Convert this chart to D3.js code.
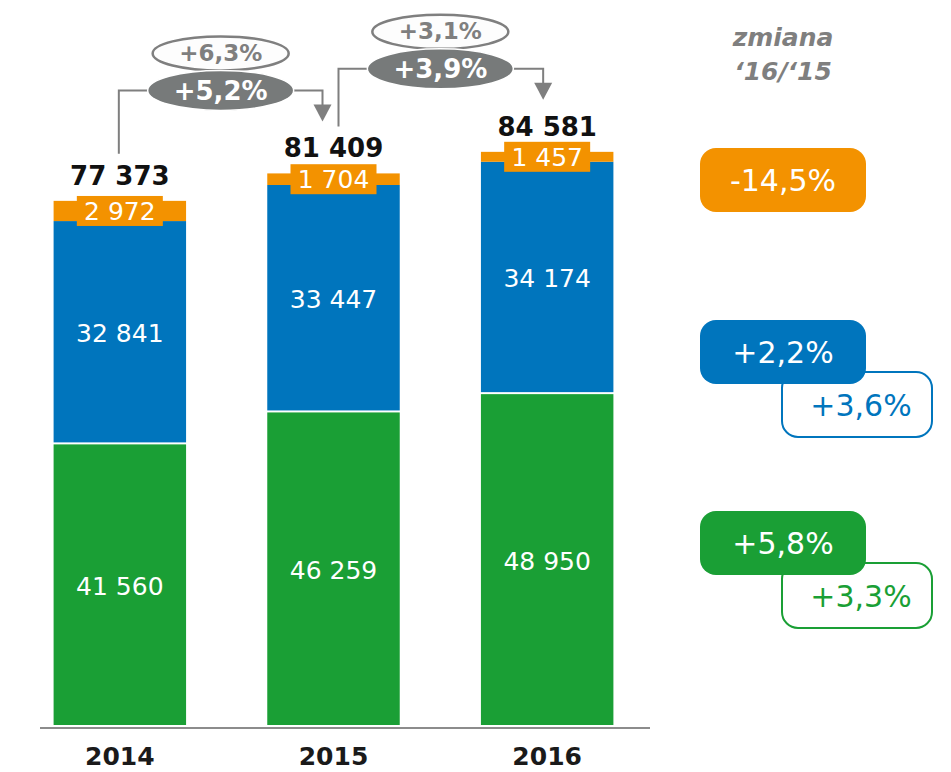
<!DOCTYPE html>
<html>
<head>
<meta charset="utf-8">
<script src="https://cdn.jsdelivr.net/npm/d3@7"></script>
<style>
  body { margin: 0; background: #fff; }
  text { font-family: "DejaVu Sans", Verdana, sans-serif; }
</style>
</head>
<body>
<div id="chart"></div>
<script>
// values
const years = ["2014", "2015", "2016"];
const green = [41560, 46259, 48950];
const blue = [32841, 33447, 34174];
const orange = [2972, 1704, 1457];
const totals = [77373, 81409, 84581];

// year-on-year growth of totals (main = this report, prev = comparable)
const growthMain = ["+5,2%", "+3,9%"];
const growthPrev = ["+6,3%", "+3,1%"];

// change '16/'15 per segment
const changeLabels = ["-14,5%", "+2,2%", "+5,8%"];
const changePrev = [null, "+3,6%", "+3,3%"];

const colors = { green: "#1a9f35", blue: "#0075bd", orange: "#f39200", gray: "#7f7f7f", dark: "#777a7a" };
const fmt = v => d3.format(",")(v).replace(/,/g, " ");

const width = 951, height = 772;
const svg = d3.select("#chart").append("svg")
    .attr("width", width)
    .attr("height", height);

const x = d3.scaleBand()
    .domain(years)
    .range([13, 654])
    .paddingInner(0.38)
    .paddingOuter(0.19);

const y = d3.scaleLinear()
    .domain([0, 100000])
    .range([727, 47]);

// stack the segments
const rows = years.map((yr, i) => ({ year: yr, green: green[i], blue: blue[i], orange: orange[i] }));
const keys = ["green", "blue", "orange"];
const series = d3.stack().keys(keys)(rows);

const bw = x.bandwidth();

series.forEach(s => {
    svg.append("g").selectAll("rect")
        .data(s)
        .join("rect")
        .attr("x", d => x(d.data.year))
        .attr("width", bw)
        .attr("y", d => y(d[1]))
        .attr("height", d => y(d[0]) - y(d[1]) - (s.key === "orange" ? 0 : 2))
        .attr("fill", colors[s.key]);
});

// labels in green and blue segments
["green", "blue"].forEach(k => {
    const s = series.find(d => d.key === k);
    svg.append("g").selectAll("text")
        .data(s)
        .join("text")
        .attr("x", d => x(d.data.year) + bw / 2)
        .attr("y", d => (y(d[0]) + y(d[1])) / 2)
        .attr("dy", "0.36em")
        .attr("text-anchor", "middle")
        .attr("fill", "#fff")
        .attr("font-size", 25)
        .text(d => fmt(d.data[k]));
});

// orange labels with their own orange box
const os = series.find(d => d.key === "orange");
const og = svg.append("g").selectAll("g")
    .data(os)
    .join("g")
    .attr("transform", d => `translate(${x(d.data.year) + bw / 2},${(y(d[0]) + y(d[1])) / 2})`);
og.append("rect")
    .attr("x", -43).attr("y", -15)
    .attr("width", 86).attr("height", 30)
    .attr("fill", colors.orange);
og.append("text")
    .attr("dy", "0.36em")
    .attr("text-anchor", "middle")
    .attr("fill", "#fff")
    .attr("font-size", 25)
    .text(d => fmt(d.data.orange));

// totals
svg.append("g").selectAll("text")
    .data(totals)
    .join("text")
    .attr("x", (d, i) => x(years[i]) + bw / 2)
    .attr("y", d => y(d) - 16)
    .attr("text-anchor", "middle")
    .attr("font-weight", "bold")
    .attr("font-size", 26)
    .attr("fill", "#111")
    .text(d => fmt(d));

// baseline
svg.append("line")
    .attr("x1", 40).attr("x2", 650)
    .attr("y1", y(0) + 1).attr("y2", y(0) + 1)
    .attr("stroke", "#8c8c8c")
    .attr("stroke-width", 2);

// year labels
svg.append("g").selectAll("text")
    .data(years)
    .join("text")
    .attr("x", d => x(d) + bw / 2)
    .attr("y", 765)
    .attr("text-anchor", "middle")
    .attr("font-weight", "bold")
    .attr("font-size", 25)
    .attr("fill", "#1a1a1a")
    .text(d => d);

// growth connectors
growthMain.forEach((g, i) => {
    const x0 = x(years[i]) + bw / 2 + (i === 0 ? -1 : 5);
    const x1 = x(years[i + 1]) + bw / 2 - (i === 0 ? 11 : 4);
    const yStart = y(totals[i]) - 47;
    const yEnd = y(totals[i + 1]) - 52;
    const hy = y(totals[i + 1]) - 83;
    const cx = (x(years[i]) + x(years[i + 1])) / 2 + bw / 2 - 6 + i * 6;

    svg.append("path")
        .attr("d", `M${x0},${yStart}V${hy}H${x1}V${yEnd - 16}`)
        .attr("fill", "none")
        .attr("stroke", colors.gray)
        .attr("stroke-width", 2);
    svg.append("path")
        .attr("d", `M${x1 - 9},${yEnd - 17}L${x1 + 9},${yEnd - 17}L${x1},${yEnd}Z`)
        .attr("fill", colors.gray);

    // comparable growth (light ellipse)
    svg.append("ellipse")
        .attr("cx", cx).attr("cy", hy - 37)
        .attr("rx", 68).attr("ry", 17)
        .attr("fill", "#fdfdfd")
        .attr("stroke", colors.gray)
        .attr("stroke-width", 2.5);
    svg.append("text")
        .attr("x", cx).attr("y", hy - 38)
        .attr("dy", "0.36em")
        .attr("text-anchor", "middle")
        .attr("font-weight", "bold")
        .attr("font-size", 23)
        .attr("fill", colors.gray)
        .text(growthPrev[i]);

    // main growth (dark ellipse)
    svg.append("ellipse")
        .attr("cx", cx).attr("cy", hy)
        .attr("rx", 73).attr("ry", 20)
        .attr("fill", colors.dark)
        .attr("stroke", "#fff")
        .attr("stroke-width", 1.5);
    svg.append("text")
        .attr("x", cx).attr("y", hy)
        .attr("dy", "0.36em")
        .attr("text-anchor", "middle")
        .attr("font-weight", "bold")
        .attr("font-size", 26)
        .attr("fill", "#fff")
        .text(g);
});

// right side header
const hdr = svg.append("text")
    .attr("x", 783)
    .attr("font-weight", "bold")
    .attr("font-style", "italic")
    .attr("font-size", 25)
    .attr("fill", colors.gray)
    .attr("text-anchor", "middle");
hdr.append("tspan").attr("x", 783).attr("y", 46).text("zmiana");
hdr.append("tspan").attr("x", 783).attr("y", 80).text("\u201816/\u201815");

// change badges
const badgeColors = [colors.orange, colors.blue, colors.green];
const badgeY = [148, 320, 511];
changeLabels.forEach((lbl, i) => {
    if (changePrev[i]) {
        svg.append("rect")
            .attr("x", 782).attr("y", badgeY[i] + 52)
            .attr("width", 150).attr("height", 65)
            .attr("rx", 16)
            .attr("fill", "#fff")
            .attr("stroke", badgeColors[i])
            .attr("stroke-width", 2);
        svg.append("text")
            .attr("x", 861).attr("y", badgeY[i] + 85)
            .attr("dy", "0.36em")
            .attr("text-anchor", "middle")
            .attr("font-size", 30)
            .attr("fill", badgeColors[i])
            .text(changePrev[i]);
    }
    svg.append("rect")
        .attr("x", 700).attr("y", badgeY[i])
        .attr("width", 166).attr("height", 64)
        .attr("rx", 16)
        .attr("fill", badgeColors[i]);
    svg.append("text")
        .attr("x", 783).attr("y", badgeY[i] + 32)
        .attr("dy", "0.36em")
        .attr("text-anchor", "middle")
        .attr("font-size", 30)
        .attr("fill", "#fff")
        .text(lbl);
});
</script>
</body>
</html>
